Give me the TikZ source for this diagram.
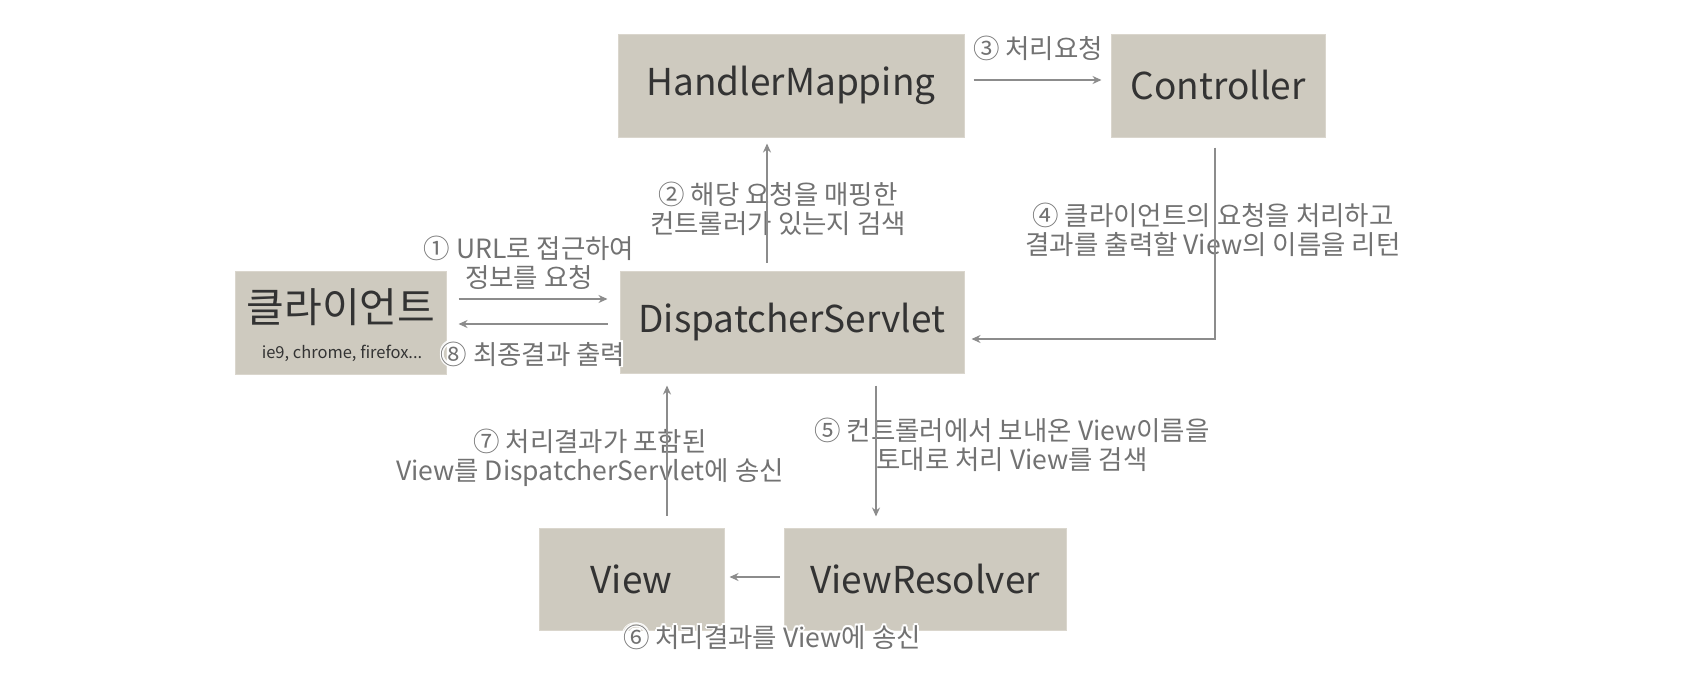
\documentclass[tikz,border=0pt]{standalone}
\usepackage{fontspec}
\setmainfont{Noto Sans CJK KR}
\usetikzlibrary{arrows.meta}
\definecolor{boxfill}{HTML}{CECABF}
\definecolor{boxedge}{HTML}{DAD6CD}
\definecolor{boxtext}{HTML}{333333}
\definecolor{lbltext}{HTML}{727272}
\definecolor{arrcol}{HTML}{8C8C8C}
\tikzset{
  box/.style={draw=boxedge, line width=1pt, fill=boxfill, text=boxtext, inner sep=0pt,
    font=\fontsize{37}{40}\selectfont},
  lbl/.style={text=lbltext, inner sep=0pt, align=center, font=\fontsize{26.5}{29.5}\selectfont},
  arr/.style={draw=arrcol, line width=2.2pt, -{Stealth[length=9pt,width=8pt]}},
}
\newcommand\halolabel[3]{%
  \foreach \hx/\hy in {1.6/0,-1.6/0,0/1.6,0/-1.6,1.2/1.2,-1.2/1.2,1.2/-1.2,-1.2/-1.2}{%
    \node[lbl,text=white] at ([xshift=\hx pt,yshift=\hy pt]#2) {#3};}%
  \node[lbl] (#1) at (#2) {#3};}
\begin{document}
\begin{tikzpicture}[x=1pt,y=-1pt]
\useasboundingbox (0,0) rectangle (1686,678);
\fill[white] (0,0) rectangle (1686,678);
% boxes
\node[box, minimum width=346pt, minimum height=103pt] (hm) at (791,85.5) {HandlerMapping};
\node[box, minimum width=214pt, minimum height=103pt] (ctrl) at (1218,85.5) {Controller};
\node[box, minimum width=211pt, minimum height=103pt] (client) at (340.5,322.5) {};
\node[text=boxtext, inner sep=0pt, font=\fontsize{41}{44}\selectfont] (clientname) at (341,307) {클라이언트};
\node[text=boxtext, inner sep=0pt, font=\fontsize{16.5}{20}\selectfont] (clientsub) at (342,353) {ie9, chrome, firefox...};
\node[box, minimum width=344pt, minimum height=102pt] (ds) at (792,322) {DispatcherServlet};
\node[box, minimum width=185pt, minimum height=102pt] (view) at (631.5,579) {View};
\node[box, minimum width=282pt, minimum height=102pt] (vr) at (925,579) {ViewResolver};
% labels
\halolabel{l1}{529,263}{① URL로 접근하여\\정보를 요청}
\halolabel{l8}{533,354}{⑧ 최종결과 출력}
\halolabel{l2}{778,209}{② 해당 요청을 매핑한\\컨트롤러가 있는지 검색}
\halolabel{l3}{1038,48}{③ 처리요청}
\halolabel{l4}{1213,230}{④ 클라이언트의 요청을 처리하고\\결과를 출력할 View의 이름을 리턴}
\halolabel{l5}{1012,445}{⑤ 컨트롤러에서 보내온 View이름을\\토대로 처리 View를 검색}
\halolabel{l7}{590,458}{⑦ 처리결과가 포함된\\View를 DispatcherServlet에 송신}
\halolabel{l6}{772,637}{⑥ 처리결과를 View에 송신}
% helper coordinates
\coordinate (y1) at (0,299);
\coordinate (y8) at (0,324);
\coordinate (x2) at (767,0);
\coordinate (y3) at (0,80);
\coordinate (x4) at (1215,0);
\coordinate (y4) at (0,339);
\coordinate (x5) at (876,0);
\coordinate (x7) at (667,0);
\coordinate (y6) at (0,577);
% arrows
\draw[arr, shorten <=12pt, shorten >=12pt] (client.east |- y1) -- (ds.west |- y1);
\draw[arr, shorten <=12pt, shorten >=12pt] (ds.west |- y8) -- (client.east |- y8);
\draw[arr, shorten <=8pt, shorten >=6pt] (ds.north -| x2) -- (hm.south -| x2);
\draw[arr, shorten <=9pt, shorten >=9pt] (hm.east |- y3) -- (ctrl.west |- y3);
\draw[arr, shorten <=10pt, shorten >=7pt] (ctrl.south -| x4) |- (ds.east |- y4);
\draw[arr, shorten <=12pt, shorten >=11pt] (ds.south -| x5) -- (vr.north -| x5);
\draw[arr, shorten <=12pt, shorten >=12pt] (view.north -| x7) -- (ds.south -| x7);
\draw[arr, shorten <=4pt, shorten >=5pt] (vr.west |- y6) -- (view.east |- y6);
\end{tikzpicture}
\end{document}
